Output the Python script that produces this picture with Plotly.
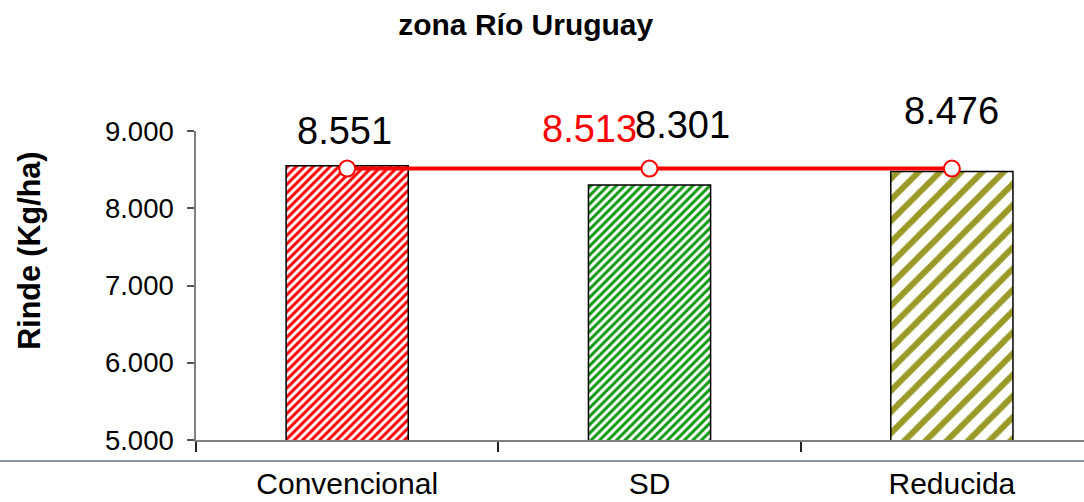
import plotly.graph_objects as go

categories = ["Convencional", "SD", "Reducida"]
rinde = [8551, 8301, 8476]
promedio = 8513
bar_colors = ["#FF0000", "#119A11", "#9A9A28"]
pattern_sizes = [6, 6, 15]
pattern_solidity = [0.5, 0.5, 0.4]
y_ticks = [5000, 6000, 7000, 8000, 9000]

FONT = "Liberation Sans, Arial, sans-serif"

def fmt(v):
    return f"{v:,}".replace(",", ".")

fig = go.Figure()

for cat, val, col, ps, sol in zip(categories, rinde, bar_colors, pattern_sizes, pattern_solidity):
    fig.add_trace(go.Bar(
        x=[cat], y=[val], width=0.404,
        marker=dict(color="white", line=dict(color="black", width=1.5),
                    pattern=dict(shape="/", fgcolor=col, bgcolor="white",
                                 size=ps, solidity=sol, fillmode="replace",
                                 fgopacity=1)),
        showlegend=False, hoverinfo="skip",
    ))

fig.add_trace(go.Scatter(
    x=categories, y=[promedio] * len(categories), mode="lines+markers",
    line=dict(color="#FF0000", width=4),
    marker=dict(size=16, color="white", line=dict(color="#FF0000", width=2)),
    showlegend=False, hoverinfo="skip",
))

# value labels
label_offsets = [(-3, 35), (33, 60), (0, 60)]
for cat, val, (dx, dy) in zip(categories, rinde, label_offsets):
    fig.add_annotation(x=cat, y=val, text=fmt(val), showarrow=False,
                       xshift=dx, yshift=dy, yanchor="middle",
                       font=dict(family=FONT, size=38, color="black"))
fig.add_annotation(x=categories[1], y=promedio, text=fmt(promedio), showarrow=False,
                   xshift=-60, yshift=40, yanchor="middle",
                   font=dict(family=FONT, size=38, color="#FF0000"))

# y-axis title
fig.add_annotation(xref="paper", yref="paper", x=-0.187, y=0.612,
                   text="<b>Rinde (Kg/ha)</b>", textangle=-90, showarrow=False,
                   xanchor="center", yanchor="middle",
                   font=dict(family=FONT, size=30.5, color="black"))

# separator line below the x axis
fig.add_shape(type="line", xref="paper", yref="paper", x0=-0.25, x1=1.05,
              y0=-0.068, y1=-0.068, line=dict(color="#5E7284", width=1.5))

fig.update_layout(
    width=1084, height=502,
    margin=dict(l=196, r=0, t=131, b=62),
    plot_bgcolor="white", paper_bgcolor="white",
    separators=",.",
    bargap=0.6,
    title=dict(text="<b>zona Río Uruguay</b>", x=0.485, xanchor="center",
               y=1 - 24 / 502, yanchor="middle", yref="container",
               font=dict(family=FONT, size=30, color="black")),
    xaxis=dict(type="category", range=[-0.5, 2.437], showgrid=False,
               showline=True, linecolor="#808080", linewidth=1.5,
               ticks="outside", tickson="boundaries", ticklen=10,
               tickcolor="#222222", tickwidth=1.5,
               ticklabelstandoff=16,
               tickfont=dict(family=FONT, size=30, color="black")),
    yaxis=dict(range=[5000, 9000], tickvals=y_ticks, tickformat=",d",
               showgrid=False, zeroline=False,
               showline=True, linecolor="#808080", linewidth=1.5,
               ticks="outside", ticklen=7, tickcolor="#555555", tickwidth=1.5,
               ticklabelstandoff=8,
               tickfont=dict(family=FONT, size=27.5, color="black")),
)

fig.write_html("out.html", config={"displayModeBar": False},
               post_script="document.body.style.margin='0';document.body.style.overflow='hidden';")
